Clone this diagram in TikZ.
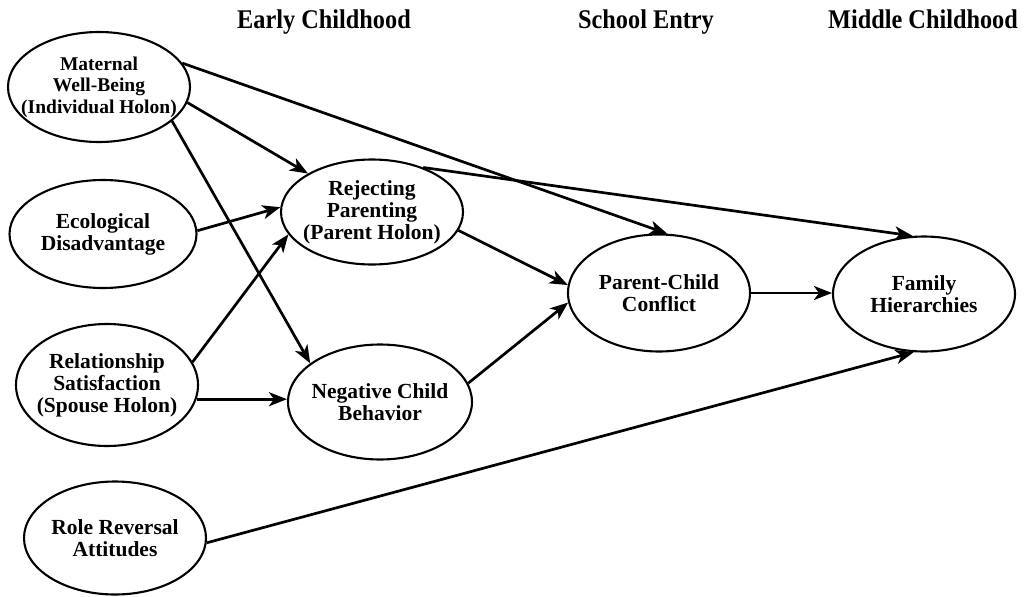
\documentclass[tikz,border=0pt]{standalone}
\usepackage{fontspec}
\setmainfont{Liberation Serif}
\newfontfamily\periodfont{Liberation Serif}[FakeStretch=0.9]
\usetikzlibrary{shapes.geometric, arrows.meta}

\begin{document}
\begin{tikzpicture}[x=1pt, y=-1pt,
  holon/.style={draw, ellipse, line width=2.1pt, inner sep=-22pt,
    minimum width=182pt, minimum height=113pt, align=center,
    font=\fontsize{21.5}{22}\selectfont\bfseries},
  period/.style={anchor=base, font=\fontsize{27}{30}\periodfont\bfseries},
  link/.style={line width=2.7pt, -{Stealth[length=18pt, width=14pt, inset=5pt]}}]
\useasboundingbox (0,0) rectangle (1026,597);
\node[period] (early) at (324,28) {Early Childhood};
\node[period] (entry) at (646,28) {School Entry};
\node[period] (middle) at (923,28) {Middle Childhood};
\node[holon, minimum height=110pt, font=\fontsize{19.5}{21.5}\selectfont\bfseries] (mat) at (99,87) {Maternal\\Well-Being\\(Individual Holon)};
\node[holon, minimum width=187pt, minimum height=108pt] (eco) at (103,234) {Ecological\\Disadvantage};
\node[holon, minimum height=122pt] (rel) at (107,385) {Relationship\\Satisfaction\\(Spouse Holon)};
\node[holon] (rol) at (115,538) {Role Reversal\\Attitudes};
\node[holon, minimum height=105pt] (rej) at (372,212) {Rejecting\\Parenting\\(Parent Holon)};
\node[holon, minimum width=184pt, minimum height=115pt] (neg) at (380,402) {Negative Child\\Behavior};
\node[holon, minimum height=117pt] (pcc) at (659,293) {Parent-Child\\Conflict};
\node[holon, minimum height=115pt] (fam) at (924,294) {Family\\Hierarchies};
\draw[link] (mat.-10) -- (rej.149);
\draw[link] (mat.-25) -- (neg.151);
\draw[link] (mat.16) -- (pcc.82);
\draw[link] (eco.2) -- (rej.177);
\draw[link] (rel.15) -- (rej.195);
\draw[link] (rel.-9) -- (neg.west |- rel.-9);
\draw[link] (rej.41) -- (fam.101);
\draw[link] (rej.-12) -- (pcc.175);
\draw[link] (neg.12) -- (pcc.186);
\draw[link] (pcc.east) -- (pcc.east -| fam.west);
\draw[link] (rol.-3) -- (fam.-100);
\end{tikzpicture}
\end{document}
